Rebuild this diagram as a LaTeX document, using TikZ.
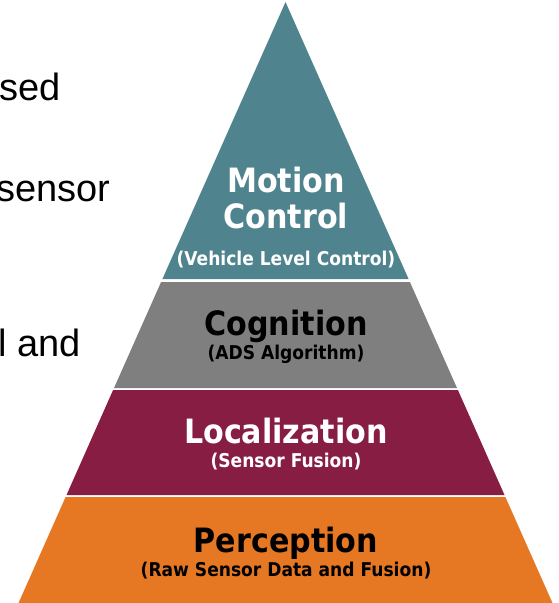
\documentclass[tikz,border=0pt]{standalone}
\usepackage{fontspec}
\setmainfont{Liberation Sans}
\newfontfamily\pyr{DejaVu Sans Condensed}
\definecolor{cteal}{HTML}{4F848F}
\definecolor{cgray}{HTML}{7F7F7F}
\definecolor{cmaroon}{HTML}{871D42}
\definecolor{corange}{HTML}{E77823}
\tikzset{
  big/.style={anchor=base, inner sep=0pt, font=\pyr\bfseries\fontsize{33.5}{36}\selectfont},
  small/.style={anchor=base, inner sep=0pt, font=\pyr\bfseries\fontsize{19}{21}\selectfont},
  side/.style={anchor=base west, inner sep=0pt, font=\fontsize{38}{40}\selectfont, text=black}
}
\begin{document}
\begin{tikzpicture}[x=1pt,y=-1pt]
\useasboundingbox (0,0) rectangle (558,603);
% layers
\fill[cteal]   (285.5,2) -- (408.6,279) -- (162.4,279) -- cycle;
\fill[cgray]   (161.1,282) -- (409.9,282) -- (457.0,388) -- (114.0,388) -- cycle;
\fill[cmaroon] (113.1,390) -- (457.9,390) -- (504.5,495) -- (66.5,495) -- cycle;
\fill[corange] (65.6,497) -- (505.4,497) -- (552.5,603) -- (18.5,603) -- cycle;
% texts
\node[big, text=white] (m1) at (286,192) {Motion};
\node[big, text=white] (m2) at (286,228) {Control};
\node[small, text=white] (m3) at (286,265) {(Vehicle Level Control)};
\node[big, text=black] (c1) at (286,335) {Cognition};
\node[small, text=black] (c2) at (286,359) {(ADS Algorithm)};
\node[big, text=white] (l1) at (286,443) {Localization};
\node[small, text=white] (l2) at (286,467) {(Sensor Fusion)};
\node[big, text=black] (p1) at (286,552) {Perception};
\node[small, text=black] (p2) at (286,576) {(Raw Sensor Data and Fusion)};
% cut-off slide text on the left
\node[side] (s1) at (-1,100) {sed};
\node[side] (s2) at (-4,201) {sensor};
\node[side] (s3) at (-2,356) {l and};
\end{tikzpicture}
\end{document}
